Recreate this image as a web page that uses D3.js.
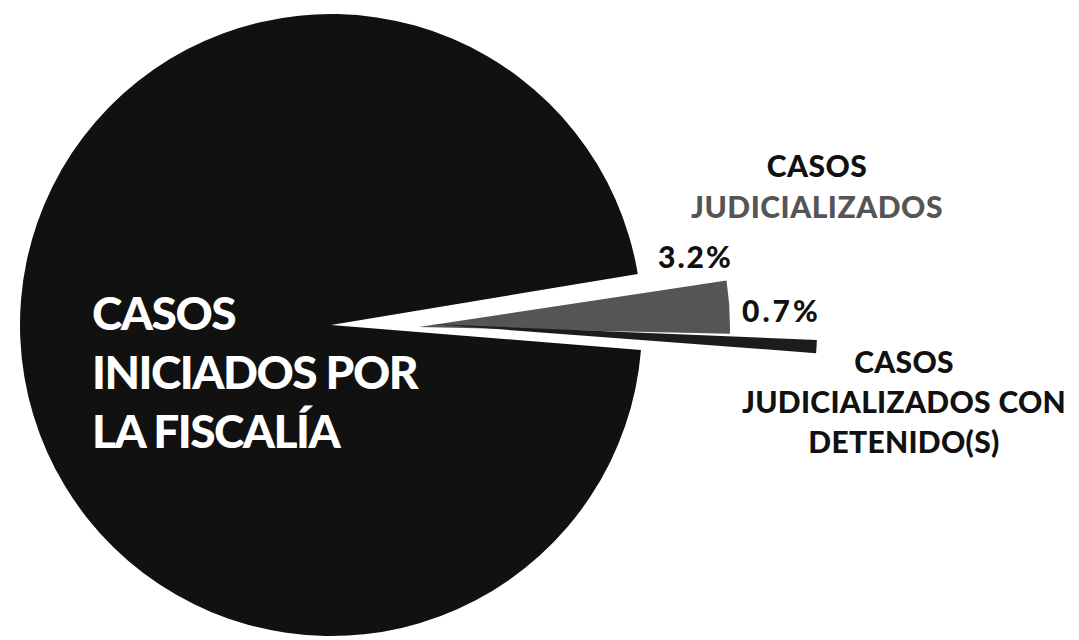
<!DOCTYPE html>
<html>
<head>
<meta charset="utf-8">
<script src="https://cdn.jsdelivr.net/npm/d3@7"></script>
<style>
  html, body { margin: 0; padding: 0; background: #fff; }
  svg { display: block; }
  text { font-family: Lato, "Open Sans", sans-serif; font-weight: 900; }
</style>
</head>
<body>
<svg id="chart" width="1079" height="640"></svg>
<script>
// ---- data ----
const categories = ["CASOS INICIADOS POR LA FISCALÍA", "CASOS JUDICIALIZADOS", "CASOS JUDICIALIZADOS CON DETENIDO(S)"];
const values = [96.1, 3.2, 0.7];
const percentLabels = ["96.1%", "3.2%", "0.7%"];
const mainLabelLines = ["CASOS", "INICIADOS POR", "LA FISCALÍA"];
const judicialLabelLines = ["CASOS", "JUDICIALIZADOS"];
const detenidoLabelLines = ["CASOS", "JUDICIALIZADOS CON", "DETENIDO(S)"];

// ---- layout / style ----
const svg = d3.select("#chart");
const cx = 331, cy = 325, R = 311;
const colors = ["#111111", "#555555", "#1c1c1c"];
const deg = Math.PI / 180;

const pie = d3.pie().sort(null).value(d => d)
  .startAngle(94.6 * deg).endAngle(94.6 * deg + 2 * Math.PI);
const arcs = pie(values);

// per-slice explode offsets, radius factors and padding (styling)
const offsets = [[0, 0], [88, 2], [99, -1]];
const radiusFactor = [1, 1, 1.245];
const pads = [0, 0.03, 0.012];

const g = svg.append("g").attr("transform", `translate(${cx},${cy})`);

g.selectAll("path.slice")
  .data(arcs)
  .join("path")
  .attr("class", "slice")
  .attr("fill", (d, i) => colors[i])
  .attr("transform", (d, i) => `translate(${offsets[i][0]},${offsets[i][1]})`)
  .attr("d", (d, i) => d3.arc()
    .innerRadius(0)
    .outerRadius(R * radiusFactor[i])
    .padAngle(pads[i])
    .padRadius(R)(d));

// ---- main label (white, inside big slice) ----
const mainText = svg.append("text")
  .attr("fill", "#ffffff")
  .attr("font-size", 46)
  .attr("letter-spacing", -1.5);
mainLabelLines.forEach((t, i) => {
  mainText.append("tspan").attr("x", 92).attr("y", 330 + i * 59).text(t);
});

// ---- judicializados label ----
const jText = svg.append("text")
  .attr("text-anchor", "middle")
  .attr("font-size", 30)
  .attr("letter-spacing", 0.5);
judicialLabelLines.forEach((t, i) => {
  jText.append("tspan").attr("x", 817).attr("y", 177 + i * 41)
    .attr("fill", i === 0 ? "#111" : colors[1]).text(t);
});

// ---- detenidos label ----
const dText = svg.append("text")
  .attr("text-anchor", "middle")
  .attr("font-size", 30)
  .attr("letter-spacing", 0.3)
  .attr("fill", "#111");
detenidoLabelLines.forEach((t, i) => {
  dText.append("tspan").attr("x", 904).attr("y", 373 + i * 40).text(t);
});

// ---- percent labels ----
svg.append("text").attr("x", 658).attr("y", 268).attr("font-size", 30)
  .attr("fill", "#111").attr("letter-spacing", 2).text(percentLabels[1]);
svg.append("text").attr("x", 742).attr("y", 322).attr("font-size", 30)
  .attr("fill", "#111").attr("letter-spacing", 3).text(percentLabels[2]);
</script>
</body>
</html>
